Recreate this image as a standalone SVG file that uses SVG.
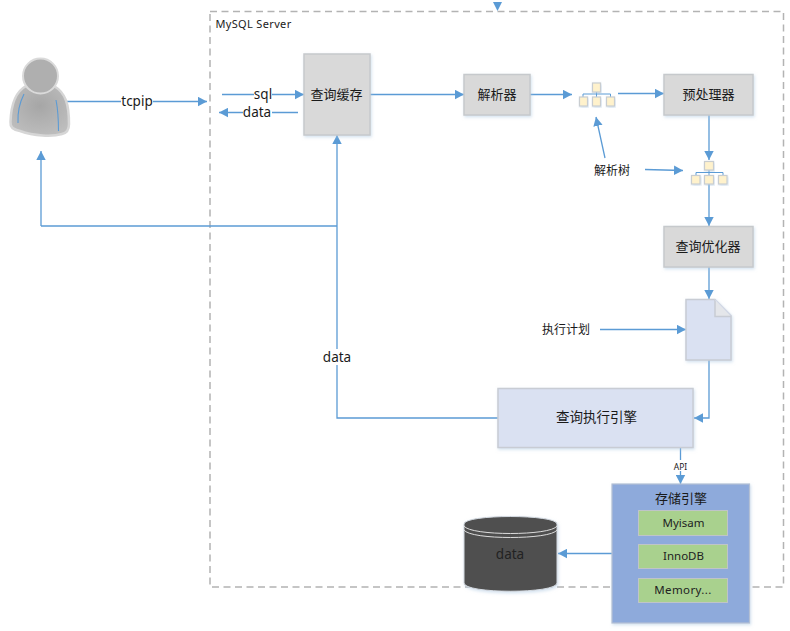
<svg xmlns="http://www.w3.org/2000/svg" width="790" height="631" viewBox="0 0 790 631">
<style>
text{font-family:"Noto Sans","Noto Sans CJK SC",sans-serif;fill:#1a1a1a;text-anchor:middle}
.cn{font-family:"Noto Sans CJK SC",sans-serif;font-size:13px}
.lat{font-size:13.5px}
.box{fill:#d9d9d9;stroke:#c6c9cc;stroke-width:1.5;filter:url(#sh)}
.blue{fill:#dae1f2;stroke:#c8ccd4;stroke-width:1.5;filter:url(#sh)}
.green{fill:#a9d18e;stroke:#bfc4c8;stroke-width:1}
.gt{font-size:11.5px;fill:#222}
.leaf{fill:#fff2cc;stroke:#c9cdd0;stroke-width:1.2;filter:url(#sh)}
.c{fill:none;stroke:#5b9bd5;stroke-width:1.3}
.e{fill:none;stroke:#5b9bd5;stroke-width:1.3;marker-end:url(#a)}
.tl{fill:none;stroke:#5b9bd5;stroke-width:1}
.bg{fill:#fff}
</style>
<defs>
<marker id="a" markerUnits="userSpaceOnUse" markerWidth="10" markerHeight="10" refX="9" refY="5" orient="auto"><path d="M0,0.3L9,5L0,9.7Z" fill="#5b9bd5"/></marker>
<filter id="sh" x="-15%" y="-15%" width="130%" height="130%"><feDropShadow dx="1" dy="1.5" stdDeviation="1.5" flood-color="#a8c4e0" flood-opacity="0.5"/></filter>
<filter id="soft" x="-10%" y="-10%" width="120%" height="120%"><feGaussianBlur stdDeviation="0.6"/></filter>
<radialGradient id="p" cx="50%" cy="40%" r="62%"><stop offset="0" stop-color="#a6a6a6"/><stop offset="1" stop-color="#bdbdbd"/></radialGradient>
</defs>

<g id="server">
<rect x="210" y="11.500" width="573.500" height="575.500" fill="none" stroke="#b3b3b3" stroke-width="1.500" stroke-dasharray="7 4.500"/>
<text x="253.500" y="28" style="font-size:11px;letter-spacing:.35px">MySQL Server</text>
</g>

<g id="connectors">
<path d="M502,2L497.500,11L493,2Z" fill="#5b9bd5"/>
<path class="e" d="M67,101.500H207"/>
<path class="e" d="M222,94.500H304"/>
<path class="e" d="M298,112.500H219"/>
<path class="e" d="M498,418H337V135"/>
<path class="c" d="M337,226H41"/>
<path class="e" d="M41,226V151"/>
<path class="e" d="M370,94.500H464"/>
<path class="e" d="M530,94.500H572"/>
<path class="e" d="M618,93.500H664"/>
<path class="e" d="M709,115V160"/>
<path class="e" d="M709,184V226"/>
<path class="e" d="M605,158L596,117"/>
<path class="e" d="M645,169.500L683,170.500"/>
<path class="e" d="M709,267V299"/>
<path class="e" d="M600,329.500H686"/>
<path class="e" d="M709,360V418H694"/>
<path class="e" d="M680.500,447V484"/>
<path class="e" d="M612,553.500H558"/>
</g>

<g id="user">
<path d="M26,86C15,92 11,105 10.500,122C10,127 14,130 20,131C34,136 52,137 62,134C67,133 69,130 69,124C69,105 66,93 54,86C46,94 34,94 26,86Z" fill="url(#p)" stroke="#d6d6d6" stroke-width="2.500" filter="url(#soft)"/>
<circle cx="40.500" cy="76" r="17.500" fill="#afafaf" stroke="#dadada" stroke-width="2" filter="url(#soft)"/>
<path d="M24,94C19,104 17.500,114 18,123M56,100C58,110 58.500,122 58.500,131" fill="none" stroke="#5b9bd5" stroke-width="1.100"/>
</g>

<g id="label-tcpip"><rect class="bg" x="121" y="93" width="32" height="17"/><text class="lat" x="137" y="106">tcpip</text></g>
<g id="label-sql"><rect class="bg" x="254" y="87" width="18" height="15"/><text class="lat" x="263" y="99">sql</text></g>
<g id="label-data1"><rect class="bg" x="243" y="105" width="29" height="15"/><text class="lat" x="257" y="117">data</text></g>
<g id="label-data2"><rect class="bg" x="322" y="349" width="30" height="16"/><text class="lat" x="337" y="362">data</text></g>

<g id="cache"><rect class="box" x="304" y="54" width="66" height="81"/><text class="cn" x="336.500" y="99">查询缓存</text></g>
<g id="parser"><rect class="box" x="464" y="74.500" width="66" height="40.500"/><text class="cn" x="497" y="99">解析器</text></g>
<g id="preprocessor"><rect class="box" x="664" y="74.500" width="89" height="40.500"/><text class="cn" x="708.500" y="99">预处理器</text></g>
<g id="optimizer"><rect class="box" x="664" y="226.500" width="89" height="40.500"/><text class="cn" x="708" y="251">查询优化器</text></g>

<g id="tree1">
<path class="tl" d="M596.500,92V97M583,97V94H610.500V97"/>
<rect class="leaf" x="592.500" y="83" width="8" height="9"/><rect class="leaf" x="579.500" y="97" width="8" height="9"/><rect class="leaf" x="592.500" y="97" width="8" height="9"/><rect class="leaf" x="606.500" y="97" width="8" height="9"/>
</g>
<g id="tree2">
<path class="tl" d="M709,170V175M696,175V172.500H723V175"/>
<rect class="leaf" x="704.500" y="161.500" width="9" height="8.500"/><rect class="leaf" x="691.500" y="175.500" width="8.500" height="8.500"/><rect class="leaf" x="704.500" y="175.500" width="9" height="8.500"/><rect class="leaf" x="718.500" y="175.500" width="8.500" height="8.500"/>
</g>
<g id="label-tree"><text style="font-size:12px" class="cn" x="612" y="175">解析树</text></g>
<g id="label-plan"><text style="font-size:12px" class="cn" x="566" y="334">执行计划</text></g>

<g id="plan">
<path class="blue" d="M686,299.500H715L731,315.500V360H686Z"/>
<path d="M715,299.500V316.500H731" fill="#e4e6ea" stroke="#c8ccd4" stroke-width="1.500"/>
<path d="M715,299.500L731,315.500" fill="none" stroke="#dae1f2" stroke-width="1"/>
</g>

<g id="engine"><rect class="blue" x="498" y="388.500" width="195" height="59"/><text class="cn" style="font-size:13.500px" x="596.500" y="422">查询执行引擎</text></g>

<g id="label-api"><rect class="bg" x="672" y="460" width="17" height="11"/><text style="font-size:8.500px" x="680.500" y="469.500">API</text></g>

<g id="storage">
<rect x="612" y="484" width="137.500" height="139" fill="#8eaadb" stroke="#b4c0d4" stroke-width="1.200" filter="url(#sh)"/>
<text class="cn" style="font-size:13px" x="681" y="503">存储引擎</text>
<rect class="green" x="638.500" y="510.500" width="89" height="25"/><text class="gt" x="683.500" y="527">Myisam</text>
<rect class="green" x="638.500" y="544.500" width="89" height="24"/><text class="gt" x="683.500" y="560">InnoDB</text>
<rect class="green" x="638.500" y="578.500" width="89" height="24"/><text class="gt" style="letter-spacing:.4px" x="683" y="594">Memory...</text>
</g>

<g id="database">
<path d="M464,524C464,514 557,514 557,524V583C557,594 464,594 464,583Z" fill="#505050" stroke="#d5dbe2" stroke-width="1" filter="url(#sh)"/>
<path d="M464,526C470,536 551,536 557,526M464,530C470,540 551,540 557,530" fill="none" stroke="#dcdcdc" stroke-width="1"/>
<text style="font-size:13.500px;fill:#222" x="510" y="559">data</text>
</g>
</svg>
